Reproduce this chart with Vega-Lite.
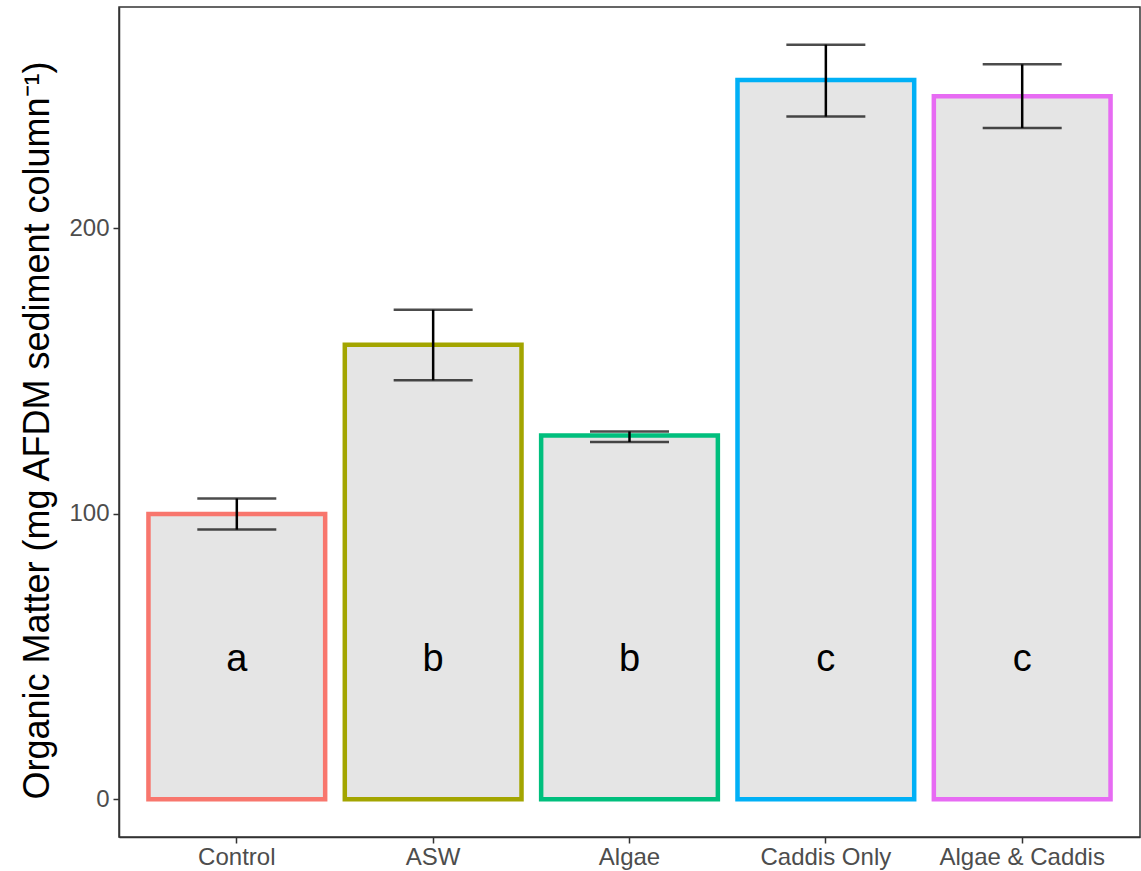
{
  "$schema": "https://vega.github.io/schema/vega-lite/v6.json",
  "autosize": {"type": "none"},
  "padding": {"left": 119, "top": 7, "right": 1, "bottom": 34},
  "width": 1021,
  "height": 830,
  "background": "white",
  "config": {
    "font": "Liberation Sans",
    "view": {"stroke": "#333333", "strokeWidth": 1.5},
    "axis": {
      "grid": false,
      "domainColor": "#333333",
      "domainWidth": 1.5,
      "tickColor": "#333333",
      "tickWidth": 1.5,
      "tickSize": 6,
      "labelColor": "#4D4D4D",
      "labelFontSize": 24,
      "labelFont": "Liberation Sans",
      "titleFont": "Liberation Sans",
      "titleColor": "black",
      "titleFontWeight": "normal"
    }
  },
  "data": {
    "values": [
      {"treatment": "Control", "mean": 100.0, "low": 94.5, "high": 105.4, "letter": "a", "label_y": 50},
      {"treatment": "ASW", "mean": 159.3, "low": 146.8, "high": 171.5, "letter": "b", "label_y": 50},
      {"treatment": "Algae", "mean": 127.5, "low": 125.2, "high": 128.9, "letter": "b", "label_y": 50},
      {"treatment": "Caddis Only", "mean": 252.0, "low": 239.2, "high": 264.4, "letter": "c", "label_y": 50},
      {"treatment": "Algae & Caddis", "mean": 246.3, "low": 235.2, "high": 257.5, "letter": "c", "label_y": 50}
    ]
  },
  "encoding": {
    "x": {
      "field": "treatment",
      "type": "nominal",
      "sort": null,
      "scale": {"paddingInner": 0.1, "paddingOuter": 0.15},
      "axis": {"title": null, "labelAngle": 0, "labelPadding": 2}
    }
  },
  "layer": [
    {
      "mark": {"type": "bar", "fill": "#E5E5E5", "strokeWidth": 4.5},
      "encoding": {
        "y": {
          "field": "mean",
          "type": "quantitative",
          "scale": {"domain": [-13.2, 277.6], "nice": false, "zero": false},
          "axis": {
            "values": [0, 100, 200],
            "title": "Organic Matter (mg AFDM sediment column⁻¹)",
            "titleFontSize": 36,
            "titleY": 423,
            "labelPadding": 4,
            "titlePadding": 12
          }
        },
        "y2": {"datum": 0},
        "stroke": {
          "field": "treatment",
          "type": "nominal",
          "sort": null,
          "scale": {
            "domain": ["Control", "ASW", "Algae", "Caddis Only", "Algae & Caddis"],
            "range": ["#F8766D", "#A3A500", "#00BF7D", "#00B0F6", "#E76BF3"]
          },
          "legend": null
        }
      }
    },
    {
      "mark": {"type": "rule", "color": "black", "strokeWidth": 2.5},
      "encoding": {
        "y": {"field": "low", "type": "quantitative"},
        "y2": {"field": "high"}
      }
    },
    {
      "mark": {"type": "tick", "color": "black", "thickness": 2.5, "size": 79},
      "encoding": {
        "y": {"field": "low", "type": "quantitative"}
      }
    },
    {
      "mark": {"type": "tick", "color": "black", "thickness": 2.5, "size": 79},
      "encoding": {
        "y": {"field": "high", "type": "quantitative"}
      }
    },
    {
      "mark": {"type": "text", "fontSize": 38, "color": "black", "baseline": "middle", "align": "center", "font": "Liberation Sans", "dy": 3},
      "encoding": {
        "y": {"field": "label_y", "type": "quantitative"},
        "text": {"field": "letter"}
      }
    }
  ]
}
